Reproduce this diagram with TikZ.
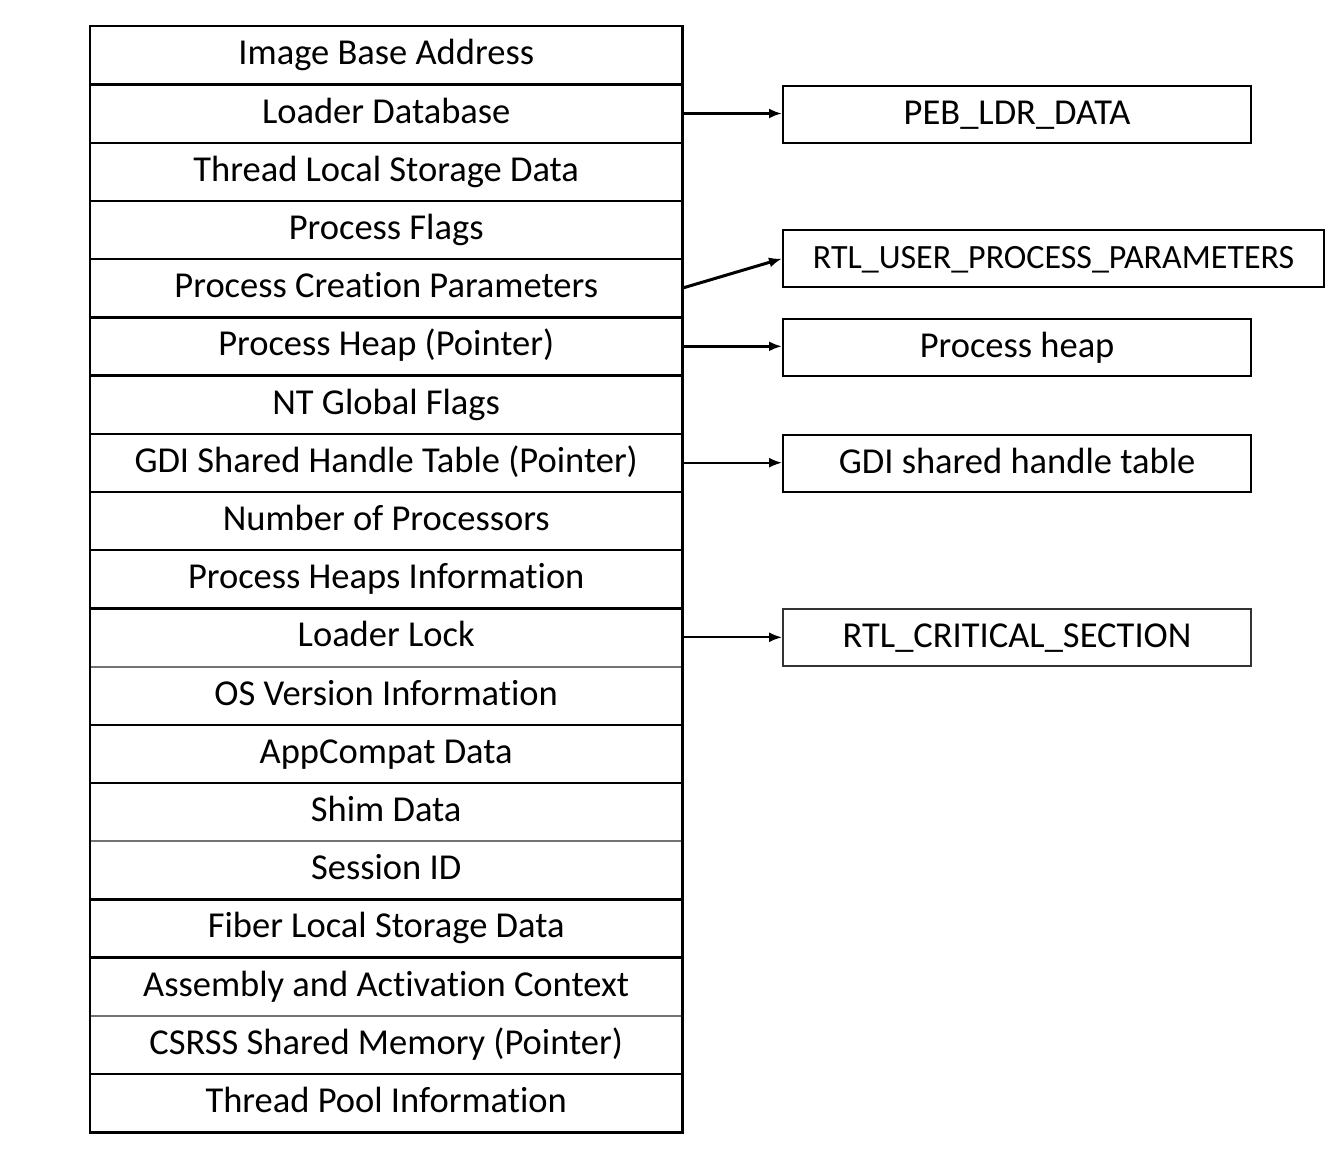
\documentclass[tikz,border=0pt]{standalone}
\usepackage{fontspec}
\setmainfont[Ligatures={NoCommon}]{Carlito}
\usetikzlibrary{arrows.meta,calc}
\begin{document}
\begin{tikzpicture}[x=1pt,y=-1pt,
  row/.style={minimum width=592pt,minimum height=58.2pt,inner sep=0pt,anchor=north west,text height=25pt,text depth=6pt,font=\fontsize{36.5}{40}\selectfont},
  sepline/.style={line width=2.4pt,black},
  lightsep/.style={line width=2pt,black!55},
  rbox/.style={draw,line width=2.2pt,minimum height=57pt,inner sep=0pt,anchor=north west,text height=25pt,text depth=6pt,font=\fontsize{36.5}{40}\selectfont},
  ptr/.style={line width=2pt,-{Latex[length=13pt,width=10pt]}},
  ptrb/.style={line width=3pt,-{Latex[length=13pt,width=10pt]}}]
\useasboundingbox (0,0) rectangle (1341,1160);
\foreach \t [count=\i] in {Image Base Address,Loader Database,Thread Local Storage Data,Process Flags,Process Creation Parameters,Process Heap (Pointer),NT Global Flags,GDI Shared Handle Table (Pointer),Number of Processors,Process Heaps Information,Loader Lock,OS Version Information,AppCompat Data,Shim Data,Session ID,Fiber Local Storage Data,Assembly and Activation Context,CSRSS Shared Memory (Pointer),Thread Pool Information}
  {\node[row] (r\i) at (90,{26+(\i-1)*58.2}) {\t};}
\foreach \i in {1,...,10,12,13,15,16,18}
  {\draw[sepline] (r\i.south west) -- (r\i.south east);}
\foreach \i in {11,14,17}
  {\draw[lightsep] (r\i.south west) -- (r\i.south east);}
\draw[line width=2.6pt] (r1.north west) rectangle (r19.south east);
\node[rbox,minimum width=468pt] (peb) at (782,85) {PEB\_LDR\_DATA};
\node[rbox,minimum width=541pt,font=\fontsize{34}{38}\selectfont] (rtl) at (782,229) {RTL\_USER\_PROCESS\_PARAMETERS};
\node[rbox,minimum width=468pt] (heap) at (782,318) {Process heap};
\node[rbox,minimum width=468pt] (gdi) at (782,434) {GDI shared handle table};
\node[rbox,minimum width=468pt,draw=black!80] (crit) at (782,608) {RTL\_CRITICAL\_SECTION};
\draw[ptrb] (r2.east) -- (r2.east -| peb.west);
\draw[ptrb] (r5.east) -- (rtl.west);
\draw[ptrb] (r6.east) -- (r6.east -| heap.west);
\draw[ptr] (r8.east) -- (r8.east -| gdi.west);
\draw[ptr] (r11.east) -- (r11.east -| crit.west);
\end{tikzpicture}
\end{document}
